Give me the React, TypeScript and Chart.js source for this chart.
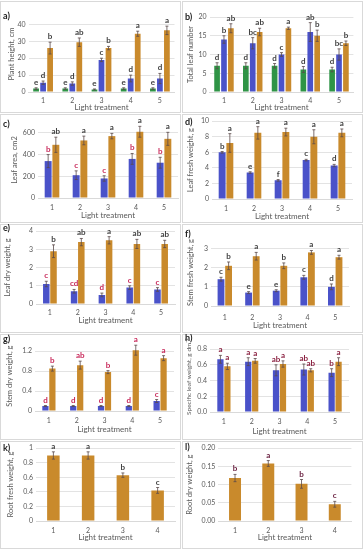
import { useEffect, useRef } from "react";
import { Chart, registerables } from "chart.js";
Chart.register(...registerables);

const FONT = "Lato, 'Liberation Sans', sans-serif";

const treatments5 = ["1", "2", "3", "4", "5"];
const treatments4 = ["1", "2", "3", "4"];
const xTitle = "Light treatment";

// a) Plant height
const heightTicks = ["0", "5", "10", "15", "20", "25", "30", "35", "40", "45"];
const heightGreen = [2, 2, 1.5, 2, 2];
const heightGreenErr = [0.5, 0.5, 0.3, 0.5, 0.5];
const heightGreenLetters = ["e", "e", "e", "e", "e"];
const heightBlue = [5.5, 5, 19, 8, 8];
const heightBlueErr = [1, 1, 1, 2, 3];
const heightBlueLetters = ["d", "d", "c", "d", "d"];
const heightOrange = [26, 29.5, 26, 34.5, 36.5];
const heightOrangeErr = [3.5, 2.5, 1, 1.5, 2.5];
const heightOrangeLetters = ["b", "ab", "b", "a", "a"];

// b) Total leaf number
const leafNumTicks = ["0", "5", "10", "15", "20"];
const leafNumGreen = [7, 7, 7, 6, 6];
const leafNumGreenErr = [0.8, 0.8, 0.6, 0.8, 0.6];
const leafNumGreenLetters = ["d", "d", "d", "d", "d"];
const leafNumBlue = [14, 13, 10, 16, 10];
const leafNumBlueErr = [1, 1.5, 0.5, 2.5, 1.5];
const leafNumBlueLetters = ["b", "bc", "c", "ab", "bc"];
const leafNumOrange = [17, 16, 17, 15, 13];
const leafNumOrangeErr = [1.2, 1, 0.3, 1.5, 0.6];
const leafNumOrangeLetters = ["ab", "ab", "a", "b", "b"];

// c) Leaf area
const areaTicks = ["0", "100", "200", "300", "400", "500", "600", "700"];
const areaBlue = [340, 210, 180, 360, 325];
const areaBlueErr = [60, 40, 25, 50, 50];
const areaBlueLetters = ["b", "c", "c", "b", "b"];
const areaOrange = [490, 530, 570, 610, 545];
const areaOrangeErr = [70, 40, 25, 50, 60];
const areaOrangeLetters = ["ab", "a", "a", "a", "a"];

// d) Leaf fresh weight
const leafFwTicks = ["0", "2", "4", "6", "8", "10"];
const leafFwBlue = [6.0, 3.4, 2.4, 5.0, 4.3];
const leafFwBlueErr = [0.1, 0.1, 0.1, 0.1, 0.15];
const leafFwBlueLetters = ["b", "e", "f", "c", "d"];
const leafFwOrange = [7.2, 8.5, 8.6, 8.0, 8.5];
const leafFwOrangeErr = [1.2, 0.8, 0.5, 0.9, 0.5];
const leafFwOrangeLetters = ["a", "a", "a", "a", "a"];

// e) Leaf dry weight
const leafDwTicks = ["0", "0.5", "1", "1.5", "2", "2.5", "3", "3.5", "4"];
const leafDwBlue = [1.1, 0.7, 0.5, 0.9, 0.8];
const leafDwBlueErr = [0.15, 0.1, 0.1, 0.1, 0.1];
const leafDwBlueLetters = ["c", "cd", "d", "c", "c"];
const leafDwOrange = [2.9, 3.4, 3.5, 3.3, 3.3];
const leafDwOrangeErr = [0.35, 0.2, 0.2, 0.25, 0.2];
const leafDwOrangeLetters = ["b", "ab", "a", "ab", "ab"];

// f) Stem fresh weight
const stemFwTicks = ["0", "0.5", "1", "1.5", "2", "2.5", "3", "3.5"];
const stemFwBlue = [1.4, 0.7, 0.8, 1.5, 1.0];
const stemFwBlueErr = [0.1, 0.05, 0.05, 0.1, 0.15];
const stemFwBlueLetters = ["c", "e", "e", "c", "d"];
const stemFwOrange = [2.1, 2.6, 2.1, 2.8, 2.55];
const stemFwOrangeErr = [0.2, 0.2, 0.15, 0.1, 0.1];
const stemFwOrangeLetters = ["b", "a", "b", "a", "a"];

// g) Stem dry weight
const stemDwTicks = ["0", "0.2", "0.4", "0.6", "0.8", "1", "1.2", "1.4"];
const stemDwBlue = [0.1, 0.1, 0.1, 0.1, 0.2];
const stemDwBlueErr = [0.01, 0.01, 0.01, 0.01, 0.03];
const stemDwBlueLetters = ["d", "d", "d", "d", "c"];
const stemDwOrange = [0.85, 0.92, 0.78, 1.22, 1.06];
const stemDwOrangeErr = [0.05, 0.08, 0.03, 0.1, 0.05];
const stemDwOrangeLetters = ["b", "ab", "b", "a", "a"];

// h) Specific leaf weight
const slwTicks = ["0.0", "0.1", "0.2", "0.3", "0.4", "0.5", "0.6", "0.7", "0.8", "0.9"];
const slwBlue = [0.67, 0.64, 0.53, 0.54, 0.5];
const slwBlueErr = [0.05, 0.05, 0.07, 0.07, 0.05];
const slwBlueLetters = ["a", "a", "ab", "ab", "b"];
const slwOrange = [0.58, 0.65, 0.61, 0.53, 0.64];
const slwOrangeErr = [0.04, 0.03, 0.04, 0.02, 0.05];
const slwOrangeLetters = ["a", "a", "a", "ab", "a"];

// k) Root fresh weight
const rootFwTicks = ["0", "0.2", "0.4", "0.6", "0.8", "1"];
const rootFw = [0.9, 0.9, 0.63, 0.42];
const rootFwErr = [0.05, 0.05, 0.03, 0.04];
const rootFwLetters = ["a", "a", "b", "c"];

// l) Root dry weight
const rootDwTicks = ["0.00", "0.05", "0.10", "0.15", "0.20"];
const rootDw = [0.118, 0.158, 0.102, 0.046];
const rootDwErr = [0.01, 0.008, 0.012, 0.008];
const rootDwLetters = ["b", "a", "b", "c"];

const GREEN = "#2f9446";
const BLUE = "#4a52c9";
const ORANGE = "#c98a2c";
const DARK = "#404040";
const RED = "#c8285a";

type Series = { values: number[]; errors: number[]; letters: string[]; color: string; letterColor: string };
type Panel = {
  tag: string;
  yTitle: string;
  categories: string[];
  ticks: string[];
  series: Series[];
  box: number[];
  plot: number[];
  tickY: number;
  titleY: number;
  yTitleX: number;
  tagY: number;
  catPct: number;
  barPct: number;
  titleSize: number;
};

const s = (values: number[], errors: number[], letters: string[], color: string, letterColor = DARK): Series => ({
  values, errors, letters, color, letterColor,
});

const panels: Panel[] = [
  {
    tag: "a)", yTitle: "Plant height, cm", categories: treatments5, ticks: heightTicks,
    series: [
      s(heightGreen, heightGreenErr, heightGreenLetters, GREEN),
      s(heightBlue, heightBlueErr, heightBlueLetters, BLUE),
      s(heightOrange, heightOrangeErr, heightOrangeLetters, ORANGE),
    ],
    box: [0, 1, 181, 112], plot: [28.5, 174.5, 16, 92], tickY: 101, titleY: 107.5, yTitleX: 12, tagY: 16,
    catPct: 0.72, barPct: 0.82, titleSize: 7.5,
  },
  {
    tag: "b)", yTitle: "Total leaf number", categories: treatments5, ticks: leafNumTicks,
    series: [
      s(leafNumGreen, leafNumGreenErr, leafNumGreenLetters, GREEN),
      s(leafNumBlue, leafNumBlueErr, leafNumBlueLetters, BLUE),
      s(leafNumOrange, leafNumOrangeErr, leafNumOrangeLetters, ORANGE),
    ],
    box: [182, 1, 181, 112], plot: [209.6, 353.4, 17, 92], tickY: 101, titleY: 107.5, yTitleX: 191, tagY: 17,
    catPct: 0.72, barPct: 0.82, titleSize: 7.5,
  },
  {
    tag: "c)", yTitle: "Leaf area, cm2", categories: treatments5, ticks: areaTicks,
    series: [
      s(areaBlue, areaBlueErr, areaBlueLetters, BLUE, RED),
      s(areaOrange, areaOrangeErr, areaOrangeLetters, ORANGE),
    ],
    box: [0, 114, 181, 109], plot: [38, 178, 122, 198], tickY: 208, titleY: 215, yTitleX: 15, tagY: 124,
    catPct: 0.55, barPct: 0.9, titleSize: 7.5,
  },
  {
    tag: "d)", yTitle: "Leaf fresh weight, g", categories: treatments5, ticks: leafFwTicks,
    series: [
      s(leafFwBlue, leafFwBlueErr, leafFwBlueLetters, BLUE),
      s(leafFwOrange, leafFwOrangeErr, leafFwOrangeLetters, ORANGE),
    ],
    box: [182, 114, 181, 109], plot: [212, 352, 121, 199], tickY: 209, titleY: 216, yTitleX: 191, tagY: 122,
    catPct: 0.55, barPct: 0.9, titleSize: 7.5,
  },
  {
    tag: "e)", yTitle: "Leaf dry weight, g", categories: treatments5, ticks: leafDwTicks,
    series: [
      s(leafDwBlue, leafDwBlueErr, leafDwBlueLetters, BLUE, RED),
      s(leafDwOrange, leafDwOrangeErr, leafDwOrangeLetters, ORANGE),
    ],
    box: [0, 224, 181, 109], plot: [36, 175, 227, 304], tickY: 313, titleY: 320, yTitleX: 8, tagY: 228,
    catPct: 0.52, barPct: 0.9, titleSize: 7.5,
  },
  {
    tag: "f)", yTitle: "Stem fresh weight, g", categories: treatments5, ticks: stemFwTicks,
    series: [
      s(stemFwBlue, stemFwBlueErr, stemFwBlueLetters, BLUE),
      s(stemFwOrange, stemFwOrangeErr, stemFwOrangeLetters, ORANGE),
    ],
    box: [182, 224, 181, 109], plot: [211, 349, 239, 306], tickY: 318, titleY: 325, yTitleX: 191, tagY: 234,
    catPct: 0.55, barPct: 0.9, titleSize: 7.5,
  },
  {
    tag: "g)", yTitle: "Stem dry weight, g", categories: treatments5, ticks: stemDwTicks,
    series: [
      s(stemDwBlue, stemDwBlueErr, stemDwBlueLetters, BLUE, RED),
      s(stemDwOrange, stemDwOrangeErr, stemDwOrangeLetters, ORANGE, RED),
    ],
    box: [0, 334, 181, 106], plot: [35, 174, 337, 411], tickY: 421, titleY: 429, yTitleX: 10, tagY: 339,
    catPct: 0.5, barPct: 0.9, titleSize: 7.5,
  },
  {
    tag: "h)", yTitle: "Specific leaf weight, g dm\u207B\u00B2", categories: treatments5, ticks: slwTicks,
    series: [
      s(slwBlue, slwBlueErr, slwBlueLetters, BLUE, "#8a2040"),
      s(slwOrange, slwOrangeErr, slwOrangeLetters, ORANGE, "#8a2040"),
    ],
    box: [182, 334, 181, 106], plot: [210, 349, 336, 412], tickY: 422, titleY: 431, yTitleX: 189, tagY: 338,
    catPct: 0.5, barPct: 0.9, titleSize: 6.5,
  },
  {
    tag: "k)", yTitle: "Root fresh weight, g", categories: treatments4, ticks: rootFwTicks,
    series: [s(rootFw, rootFwErr, rootFwLetters, ORANGE)],
    box: [0, 441, 181, 108], plot: [36, 175, 443, 521], tickY: 531, titleY: 537, yTitleX: 11, tagY: 448,
    catPct: 0.36, barPct: 1, titleSize: 7.5,
  },
  {
    tag: "l)", yTitle: "Root dry weight, g", categories: treatments4, ticks: rootDwTicks,
    series: [s(rootDw, rootDwErr, rootDwLetters, ORANGE, "#6a2040")],
    box: [182, 441, 181, 108], plot: [218.4, 351.4, 442, 521], tickY: 531, titleY: 537, yTitleX: 190, tagY: 447,
    catPct: 0.36, barPct: 1, titleSize: 7.5,
  },
];

const annotPlugin = {
  id: "annot",
  beforeDraw(chart: any) {
    const ctx = chart.ctx;
    ctx.save();
    ctx.fillStyle = "#ffffff";
    ctx.fillRect(0, 0, chart.width, chart.height);
    ctx.strokeStyle = "#d9d9d9";
    ctx.lineWidth = 1;
    ctx.strokeRect(0.5, 0.5, chart.width - 1, chart.height - 1);
    ctx.restore();
  },
  afterDatasetsDraw(chart: any, _args: any, opts: any) {
    const p: Panel = opts.panel;
    const ctx = chart.ctx;
    const y = chart.scales.y;
    ctx.save();
    p.series.forEach((ser, i) => {
      const meta = chart.getDatasetMeta(i);
      meta.data.forEach((el: any, j: number) => {
        const v = ser.values[j];
        const e = ser.errors[j];
        const top = y.getPixelForValue(v + e);
        const bot = y.getPixelForValue(Math.max(v - e, 0));
        ctx.strokeStyle = "#5a4a4a";
        ctx.lineWidth = 0.8;
        ctx.beginPath();
        ctx.moveTo(el.x, bot);
        ctx.lineTo(el.x, top);
        ctx.moveTo(el.x - 1.5, top);
        ctx.lineTo(el.x + 1.5, top);
        ctx.moveTo(el.x - 1.5, bot);
        ctx.lineTo(el.x + 1.5, bot);
        ctx.stroke();
        ctx.fillStyle = ser.letterColor;
        ctx.font = `bold 8px ${FONT}`;
        ctx.textAlign = "center";
        ctx.textBaseline = "alphabetic";
        ctx.fillText(ser.letters[j], el.x, top - 3);
      });
    });
    ctx.fillStyle = "#222";
    ctx.font = `bold 9px ${FONT}`;
    ctx.textAlign = "left";
    ctx.textBaseline = "middle";
    ctx.fillText(p.tag, 3, p.tagY - p.box[1]);
    ctx.restore();
  },
};

function makeChart(canvas: HTMLCanvasElement, p: Panel) {
  const [cx, cy, cw, ch] = p.box;
  const [L, R, T, B] = p.plot;
  const yw = L - cx;
  const xh = p.titleY + 4.8 - B;
  const tickVals = p.ticks.map(Number);
  const lh = p.titleSize * 1.2;
  return new Chart(canvas, {
    type: "bar",
    data: {
      labels: p.categories,
      datasets: p.series.map((ser) => ({
        data: ser.values,
        backgroundColor: ser.color,
        categoryPercentage: p.catPct,
        barPercentage: p.barPct,
      })),
    },
    options: {
      animation: false,
      responsive: false,
      devicePixelRatio: 1,
      layout: { padding: { left: 0, top: T - cy, right: cx + cw - R, bottom: cy + ch - B - xh } },
      plugins: {
        legend: { display: false },
        tooltip: { enabled: false },
        annot: { panel: p },
      } as any,
      scales: {
        x: {
          grid: { display: false, drawTicks: false, tickLength: 0 },
          border: { display: true, color: "#d9d9d9" },
          ticks: {
            font: { family: FONT, size: 7 },
            color: "#595959",
            padding: Math.max(0, p.tickY - B - 4),
            maxRotation: 0,
            autoSkip: false,
          },
          title: {
            display: true,
            text: xTitle,
            font: { family: FONT, size: 8 },
            color: "#595959",
            padding: 0,
          },
          afterFit: (sc: any) => {
            sc.height = xh;
          },
        },
        y: {
          min: tickVals[0],
          max: tickVals[tickVals.length - 1],
          afterBuildTicks: (sc: any) => {
            sc.ticks = tickVals.map((v) => ({ value: v }));
          },
          ticks: {
            callback: (_v: any, i: number) => p.ticks[i],
            font: { family: FONT, size: 7 },
            color: "#595959",
            padding: 3,
          },
          grid: { color: "#e3e3e3", drawTicks: false },
          border: { display: false },
          title: {
            display: true,
            text: p.yTitle,
            font: { family: FONT, size: p.titleSize },
            color: "#595959",
            padding: { top: Math.max(0, p.yTitleX - cx - lh / 2), bottom: 0 },
          },
          afterFit: (sc: any) => {
            sc.width = yw;
          },
        },
      },
    } as any,
    plugins: [annotPlugin],
  });
}

function PanelChart({ p }: { p: Panel }) {
  const ref = useRef<HTMLCanvasElement | null>(null);
  useEffect(() => {
    if (!ref.current) return;
    const c = makeChart(ref.current, p);
    return () => c.destroy();
  }, [p]);
  const [x, y, w, h] = p.box;
  return (
    <canvas
      ref={ref}
      width={w}
      height={h}
      style={{ position: "absolute", left: x, top: y, width: w, height: h }}
    />
  );
}

export default function App() {
  return (
    <div style={{ position: "absolute", left: 0, top: 0, width: 363, height: 550, background: "#fff" }}>
      {panels.map((p) => (
        <PanelChart key={p.tag} p={p} />
      ))}
    </div>
  );
}
